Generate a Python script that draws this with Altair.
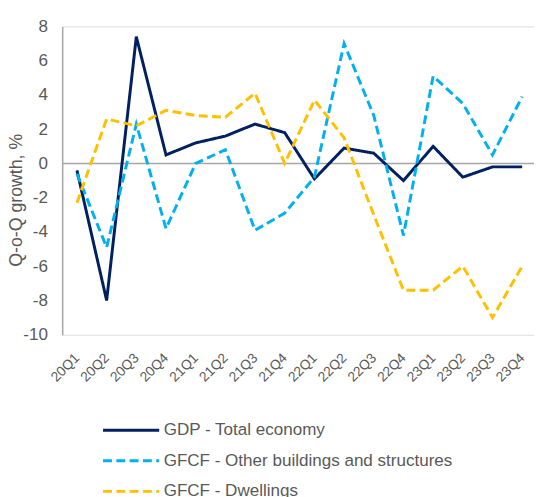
import altair as alt
import pandas as pd

quarters = ["20Q1", "20Q2", "20Q3", "20Q4", "21Q1", "21Q2", "21Q3", "21Q4",
            "22Q1", "22Q2", "22Q3", "22Q4", "23Q1", "23Q2", "23Q3", "23Q4"]
gdp = [-0.4, -8.0, 7.4, 0.5, 1.2, 1.6, 2.3, 1.8, -0.9, 0.9, 0.6, -1.0, 1.0, -0.8, -0.2, -0.2]
other_buildings = [-0.6, -4.9, 2.3, -3.8, 0.0, 0.8, -3.9, -2.9, -0.8, 7.0, 2.8, -4.2, 5.1, 3.5, 0.5, 3.9]
dwellings = [-2.3, 2.6, 2.2, 3.1, 2.8, 2.7, 4.1, 0.0, 3.7, 1.5, -3.0, -7.4, -7.4, -6.0, -9.0, -6.0]

series_names = ["GDP - Total economy", "GFCF - Other buildings and structures", "GFCF - Dwellings"]
series_colors = ["#002060", "#00B0F0", "#FFC000"]
series_dashes = [[1, 0], [9, 4.5], [9, 4.5]]
y_ticks = [-10, -8, -6, -4, -2, 0, 2, 4, 6, 8]

rows = []
for name, vals in zip(series_names, [gdp, other_buildings, dwellings]):
    for i, (q, v) in enumerate(zip(quarters, vals)):
        rows.append({"quarter": q, "value": v, "series": name, "order": i})
df = pd.DataFrame(rows)
zero_df = pd.DataFrame({"y": [0]})

FONT = "Liberation Sans"
GREY = "#595959"

legend = alt.Legend(
    title=None, orient="none", legendX=61, legendY=401, direction="vertical",
    symbolType="M-4,0H4", symbolSize=203, symbolStrokeWidth=3, symbolFillColor="transparent",
    labelFont=FONT, labelFontSize=17.3, labelColor=GREY, labelOffset=24,
    labelLimit=0, rowPadding=13, padding=0,
)

x_enc = alt.X("quarter:N", sort=quarters,
              scale=alt.Scale(type="point", range=[15, 467], padding=0),
              axis=alt.Axis(title=None, domain=False, ticks=False, grid=False,
                            labelAngle=-45, labelAlign="right", labelBaseline="middle",
                            labelPadding=21, labelFont=FONT, labelFontSize=14,
                            labelColor=GREY, labelOverlap=False))

y_axis = alt.Axis(title="Q-o-Q growth, %", values=y_ticks, domain=True,
                  labelExpr="'' + datum.value", labelOverlap=False,
                  labelBound=False, labelFlush=False,
                  domainColor="#A6A6A6", domainWidth=1.5, ticks=False, grid=False,
                  labelPadding=15, labelFont=FONT, labelFontSize=17.3,
                  labelColor=GREY, titleFont=FONT, titleFontSize=18,
                  titleFontWeight="normal", titleColor=GREY,
                  titleAngle=270, titleX=-46, titleY=176,
                  titleAlign="center", titleBaseline="middle")
y_scale = alt.Scale(domain=[-10, 8], nice=False, zero=False)

zero_rule = alt.Chart(zero_df).mark_rule(color="#A6A6A6", strokeWidth=1.5).encode(
    y=alt.Y("y:Q", scale=y_scale, axis=y_axis)
)

lines = alt.Chart(df).mark_line(strokeWidth=3, strokeCap="butt", strokeJoin="miter").encode(
    x=x_enc,
    y=alt.Y("value:Q", scale=y_scale, axis=y_axis),
    color=alt.Color("series:N", scale=alt.Scale(domain=series_names, range=series_colors),
                    legend=legend),
    strokeDash=alt.StrokeDash("series:N", scale=alt.Scale(domain=series_names, range=series_dashes),
                              legend=legend),
    order="order:Q",
)

chart = alt.layer(zero_rule, lines).properties(
    width=479, height=313,
    autosize=alt.AutoSizeParams(type="none"),
    padding={"left": 55, "top": 15, "right": 0, "bottom": 161},
).configure_view(stroke=None).configure_axisY(labelOverlap=False).configure(background="white")

chart.save("out.html", embed_options={"renderer": "svg", "actions": False})
